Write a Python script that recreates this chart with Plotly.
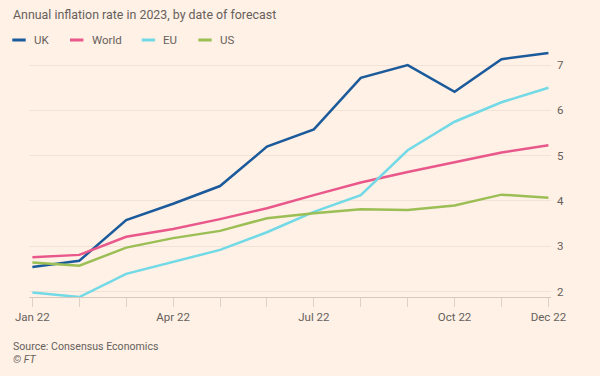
import plotly.graph_objects as go

# ---- data ----
months = ["Jan 22", "Feb 22", "Mar 22", "Apr 22", "May 22", "Jun 22",
          "Jul 22", "Aug 22", "Sep 22", "Oct 22", "Nov 22", "Dec 22"]
tick_labels = ["Jan 22", "", "", "Apr 22", "", "", "Jul 22", "", "", "Oct 22", "", "Dec 22"]
uk = [2.54, 2.68, 3.58, 3.94, 4.33, 5.20, 5.58, 6.72, 7.00, 6.41, 7.13, 7.27]
world = [2.76, 2.81, 3.21, 3.38, 3.60, 3.84, 4.13, 4.41, 4.64, 4.85, 5.07, 5.23]
eu = [1.98, 1.88, 2.39, 2.65, 2.92, 3.31, 3.76, 4.13, 5.12, 5.75, 6.18, 6.50]
us = [2.64, 2.57, 2.97, 3.18, 3.34, 3.62, 3.73, 3.82, 3.80, 3.90, 4.14, 4.07]
y_ticks = [2, 3, 4, 5, 6, 7]

series_names = ["UK", "World", "EU", "US"]
series_values = [uk, world, eu, us]
colors = ["#1b5a9b", "#e9588b", "#72d9e6", "#9bbe55"]

BG = "#FFF1E5"
TXT = "#66605C"
FONT = "Roboto, Lato, sans-serif"

W, H = 600, 376
L, R, T, B = 29, 49, 47, 79
PW, PH = W - L - R, H - T - B


def px_x(px):
    return (px - L) / PW


def px_y(py):
    return (H - B - py) / PH


fig = go.Figure()
for name, vals, col in zip(series_names, series_values, colors):
    fig.add_trace(go.Scatter(x=months, y=vals, name=name, mode="lines",
                             line=dict(color=col, width=2.5),
                             showlegend=False, hoverinfo="skip"))

# custom legend (short swatches)
legend_x = [12.3, 70, 141.7, 198.3]
shapes = []
annotations = []
for name, col, lx in zip(series_names, colors, legend_x):
    shapes.append(dict(type="line", xref="paper", yref="paper",
                       x0=px_x(lx), x1=px_x(lx + 13.4), y0=px_y(40), y1=px_y(40),
                       line=dict(color=col, width=3)))
    annotations.append(dict(text=name, xref="paper", yref="paper",
                            x=px_x(lx + 19.5), y=px_y(40.5), xanchor="left", yanchor="middle",
                            showarrow=False, font=dict(family=FONT, size=11.5, color=TXT)))

annotations.append(dict(text="Source: Consensus Economics", xref="paper", yref="paper",
                        x=px_x(11), y=px_y(346), xanchor="left", yanchor="middle",
                        showarrow=False, font=dict(family=FONT, size=10.6, color=TXT)))
annotations.append(dict(text="<i>© FT</i>", xref="paper", yref="paper",
                        x=px_x(11), y=px_y(359.5), xanchor="left", yanchor="middle",
                        showarrow=False, font=dict(family=FONT, size=10.6, color=TXT)))

fig.update_layout(
    width=W, height=H,
    margin=dict(l=L, r=R, t=T, b=B),
    paper_bgcolor=BG, plot_bgcolor=BG,
    title=dict(text="Annual inflation rate in 2023, by date of forecast",
               x=13 / W, xanchor="left", y=1 - 15 / H, yanchor="middle",
               font=dict(family=FONT, size=12.4, color=TXT)),
    shapes=shapes,
    annotations=annotations,
    showlegend=False,
    xaxis=dict(type="category", range=[-0.072, 11.055],
               tickvals=months, ticktext=tick_labels,
               ticks="outside", ticklen=9, tickcolor="#DDD2C7", tickwidth=1,
               showline=True, linecolor="#D6CABF", linewidth=1,
               showgrid=False, zeroline=False,
               tickfont=dict(family=FONT, size=11.5, color=TXT)),
    yaxis=dict(side="right", range=[1.88, 7.4], tickvals=y_ticks,
               showgrid=True, gridcolor="#F2E3D6", gridwidth=1,
               zeroline=False, showline=False, ticks="",
               ticklabelstandoff=5,
               tickfont=dict(family=FONT, size=11.5, color=TXT)),
)

fig.write_html("out.html",
               config={"displayModeBar": False},
               post_script="document.body.style.margin='0';"
                           "document.body.style.background='#FFF1E5';")
